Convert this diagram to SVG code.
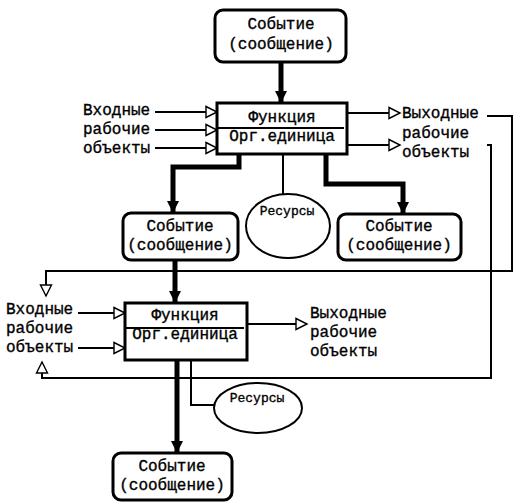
<svg xmlns="http://www.w3.org/2000/svg" width="523" height="503" viewBox="0 0 523 503">
<style>
text{font-family:"Liberation Mono","DejaVu Sans Mono",monospace;font-size:16px;font-weight:normal;fill:#000;stroke:#000;stroke-width:0.35}
.c{text-anchor:middle}
.r{font-size:13px}
.ev{fill:#fff;stroke:#000;stroke-width:3}
.fn{fill:#fff;stroke:#000;stroke-width:3}
.thin{fill:none;stroke:#000;stroke-width:2}
.thick{fill:none;stroke:#000;stroke-width:5}
.res{fill:#fff;stroke:#000;stroke-width:2}
</style>
<defs>
<marker id="open" viewBox="0 0 10 10" refX="10" refY="5" markerWidth="11" markerHeight="11" markerUnits="userSpaceOnUse" orient="auto" overflow="visible">
<path d="M0,0 L10,5 L0,10 Z" fill="#fff" stroke="#000" stroke-width="1.3"/>
</marker>
<marker id="fill" viewBox="0 0 12 12" refX="12" refY="6" markerWidth="12" markerHeight="12" markerUnits="userSpaceOnUse" orient="auto" overflow="visible">
<path d="M0,0 L12,6 L0,12 Z" fill="#000"/>
</marker>
</defs>
<g id="connectors">
<path class="thick" d="M281,62 V103" marker-end="url(#fill)"/>
<path class="thick" d="M239,154 V167 H173 V213" marker-end="url(#fill)"/>
<path class="thick" d="M326,154 V184 H403 V214" marker-end="url(#fill)"/>
<path class="thick" d="M175,260 V303" marker-end="url(#fill)"/>
<path class="thick" d="M177,360 V453" marker-end="url(#fill)"/>
<path class="thin" d="M283,154 V194"/>
<path class="thin" d="M191,360 V405 H214"/>
<path class="thin" d="M155,112 H217" marker-end="url(#open)"/>
<path class="thin" d="M155,130 H217" marker-end="url(#open)"/>
<path class="thin" d="M155,148 H217" marker-end="url(#open)"/>
<path class="thin" d="M347,113 H400" marker-end="url(#open)"/>
<path class="thin" d="M347,145 H400" marker-end="url(#open)"/>
<path class="thin" d="M487,116 H512 V271 H46 V296" marker-end="url(#open)"/>
<path class="thin" d="M487,145 H491 V378 H42 V362" marker-end="url(#open)"/>
<path class="thin" d="M78,313 H125" marker-end="url(#open)"/>
<path class="thin" d="M78,348 H125" marker-end="url(#open)"/>
<path class="thin" d="M247,324 H307" marker-end="url(#open)"/>
</g>
<g id="event1">
<rect class="ev" x="215" y="10" width="131" height="52" rx="8"/>
<text class="c" x="281" y="29">Событие</text>
<text class="c" x="281" y="49">(сообщение)</text>
</g>
<g id="function1">
<rect class="fn" x="217" y="103" width="130" height="51"/>
<line x1="217" y1="128" x2="344" y2="128" stroke="#000" stroke-width="2"/>
<text class="c" x="282" y="122">Функция</text>
<text class="c" x="282" y="141">Орг.единица</text>
</g>
<g id="inputs1">
<text x="83" y="115">Входные</text>
<text x="83" y="134">рабочие</text>
<text x="83" y="153">объекты</text>
</g>
<g id="outputs1">
<text x="402" y="118">Выходные</text>
<text x="402" y="138">рабочие</text>
<text x="402" y="157">объекты</text>
</g>
<g id="resource1">
<ellipse class="res" cx="288" cy="226" rx="42" ry="32"/>
<text class="c r" x="287" y="215">Ресурсы</text>
</g>
<g id="event2">
<rect class="ev" x="123" y="213" width="115" height="47" rx="8"/>
<text class="c" x="180" y="231">Событие</text>
<text class="c" x="180" y="250">(сообщение)</text>
</g>
<g id="event3">
<rect class="ev" x="338" y="214" width="123" height="46" rx="8"/>
<text class="c" x="399" y="231">Событие</text>
<text class="c" x="399" y="250">(сообщение)</text>
</g>
<g id="function2">
<rect class="fn" x="125" y="303" width="122" height="57"/>
<line x1="125" y1="328" x2="244" y2="328" stroke="#000" stroke-width="2"/>
<text class="c" x="185" y="320">Функция</text>
<text class="c" x="185" y="339">Орг.единица</text>
</g>
<g id="inputs2">
<text x="6" y="314">Входные</text>
<text x="6" y="333">рабочие</text>
<text x="6" y="352">объекты</text>
</g>
<g id="outputs2">
<text x="310" y="318">Выходные</text>
<text x="310" y="337">рабочие</text>
<text x="310" y="356">объекты</text>
</g>
<g id="resource2">
<ellipse class="res" cx="258" cy="408" rx="44" ry="25"/>
<text class="c r" x="257" y="402">Ресурсы</text>
</g>
<g id="event4">
<rect class="ev" x="113" y="453" width="119" height="47" rx="8"/>
<text class="c" x="172" y="471">Событие</text>
<text class="c" x="172" y="490">(сообщение)</text>
</g>
</svg>
